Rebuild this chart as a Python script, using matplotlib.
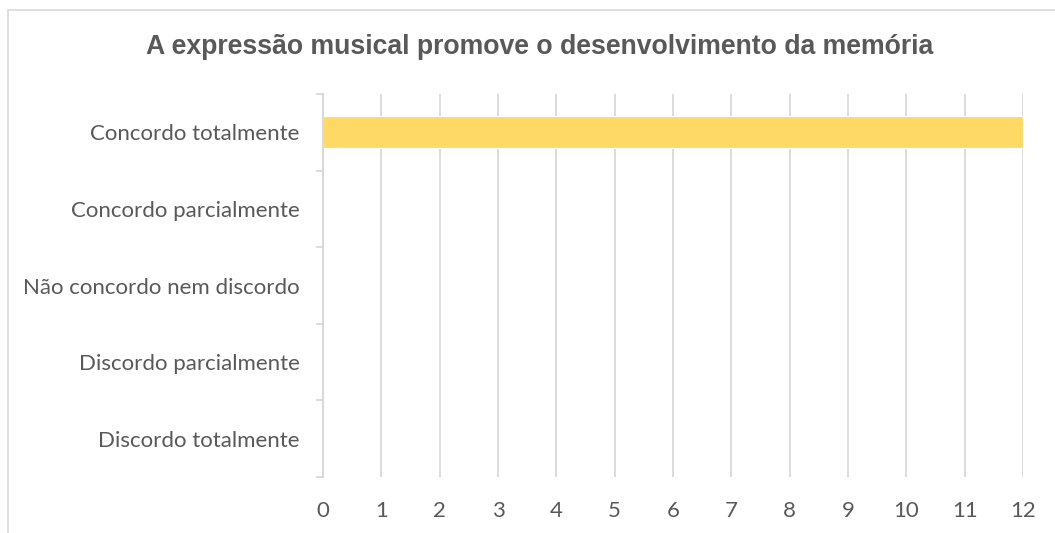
import numpy as np
import matplotlib.pyplot as plt
from matplotlib.patches import Rectangle

categories = ['Concordo totalmente', 'Concordo parcialmente', 'Não concordo nem discordo',
              'Discordo parcialmente', 'Discordo totalmente']
values = [12, 0, 0, 0, 0]
x_ticks = list(range(0, 13))
title = 'A expressão musical promove o desenvolvimento da memória'

grid_col = '#d9d9d9'
text_col = '#595959'

fig = plt.figure(figsize=(10.55, 5.33), dpi=100)
ax = fig.add_axes([323 / 1055, 1 - 477 / 533, 700 / 1055, 383 / 533])

# chart area border (only left and top visible in the reference)
fig.patches.append(Rectangle((8 / 1055, -0.1), 1.2, 1 - 10 / 533 + 0.1,
                             transform=fig.transFigure, fill=False,
                             edgecolor=grid_col, linewidth=1.2))

y = np.arange(len(categories))
ax.barh(y, values, height=0.42, color='#FFD966', edgecolor='white', linewidth=0.8, zorder=3)

ax.set_xlim(0, 12)
ax.set_ylim(len(categories) - 0.5, -0.5)
ax.set_xticks(x_ticks)
ax.xaxis.grid(True, color=grid_col, linewidth=1.3, zorder=0)
ax.tick_params(axis='x', length=0, pad=17, labelsize=16, labelcolor=text_col)

# ticks at boundaries, labels at centres
ax.set_yticks(np.arange(len(categories) + 1) - 0.5)
ax.set_yticklabels([])
ax.set_yticks(y, minor=True)
ax.set_yticklabels(categories, minor=True)
ax.tick_params(axis='y', which='major', length=5, width=1.3, color=grid_col, direction='out')
ax.tick_params(axis='y', which='minor', length=0, pad=17, labelsize=16, labelcolor=text_col)

for s in ['top', 'right', 'bottom']:
    ax.spines[s].set_visible(False)
ax.spines['left'].set_color(grid_col)
ax.spines['left'].set_linewidth(1.5)
ax.spines['left'].set_zorder(5)

for lbl in ax.get_xticklabels() + ax.get_yticklabels(minor=True):
    lbl.set_fontfamily('Lato')

fig.text(540 / 1055, 1 - 47 / 533, title, ha='center', va='center',
         fontsize=19.2, fontweight='bold', color=text_col, family='Liberation Sans')

fig.savefig('out.png', dpi=100)
